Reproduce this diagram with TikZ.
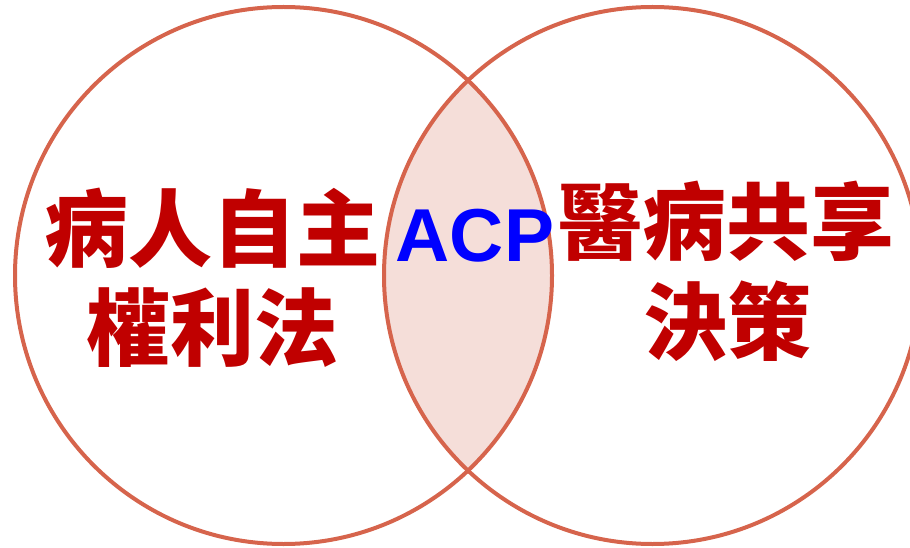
\documentclass[tikz,border=0pt]{standalone}
\usepackage{fontspec}
\setmainfont{Liberation Sans}
\newfontfamily\cjk{Noto Sans CJK TC}
\definecolor{ringc}{RGB}{214,100,76}
\definecolor{lensc}{RGB}{245,222,217}
\definecolor{redtxt}{RGB}{192,0,0}
\definecolor{bluetxt}{RGB}{0,0,255}
\tikzset{
  ring/.style={draw=ringc, line width=4pt},
  cjktxt/.style={text=redtxt, font=\cjk\bfseries\fontsize{84}{100}\selectfont, inner sep=0pt, anchor=center},
  acptxt/.style={text=bluetxt, font=\bfseries\fontsize{75}{90}\selectfont, inner sep=0pt, anchor=center}
}
\begin{document}
\begin{tikzpicture}[x=1pt,y=-1pt]
\useasboundingbox (0,0) rectangle (910,548);
\clip (0,0) rectangle (910,548);
\coordinate (cl) at (283.5,275.5);
\coordinate (cr) at (652.5,275.5);
% lens
\begin{scope}
  \clip (cl) circle[radius=268.5pt];
  \fill[lensc] (cr) circle[radius=268.5pt];
\end{scope}
\draw[ring] (cl) circle[radius=268.5pt];
\draw[ring] (cr) circle[radius=268.5pt];
\node[cjktxt] (l1) at (212,228) {病人自主};
\node[cjktxt] (l2) at (212,328) {權利法};
\node[cjktxt] (r1) at (726,221) {醫病共享};
\node[cjktxt] (r2) at (727,321) {決策};
\node[acptxt] (acp) at (475,236) {ACP};
\end{tikzpicture}
\end{document}
